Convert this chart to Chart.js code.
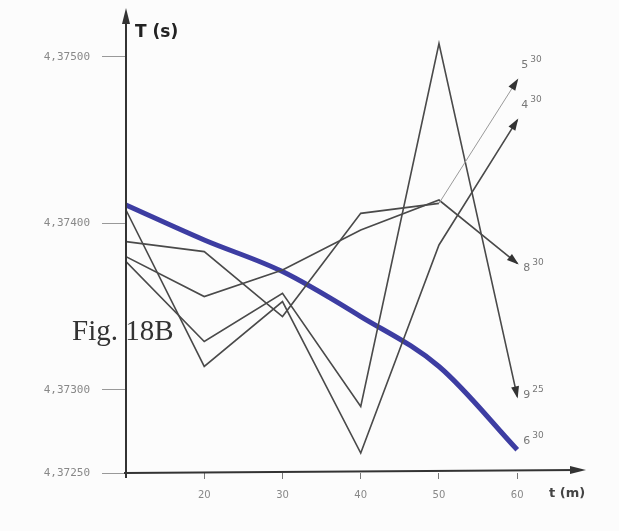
<!DOCTYPE html>
<html><head><meta charset="utf-8">
<script src="https://cdn.jsdelivr.net/npm/chart.js@4/dist/chart.umd.min.js"></script>
<style>html,body{margin:0;padding:0;background:#fcfcfc;}#wrap{width:619px;height:531px;}</style>
</head><body><div id="wrap"><canvas id="c" width="619" height="531"></canvas></div>
<script>
const xValues = [10, 20, 30, 40, 50, 60];
const xTickValues = [20, 30, 40, 50, 60];
const yTickValues = [4.37250, 4.37300, 4.37400, 4.37500];
const series630 = [4.37411, 4.37390, 4.37371, 4.37344, 4.37314, 4.37264];
const series430 = [4.37408, 4.37314, 4.37353, 4.37262, 4.37387, 4.37462];
const series925 = [4.37377, 4.37329, 4.37358, 4.37290, 4.37508, 4.37296];
const series530 = [4.37389, 4.37383, 4.37344, 4.37406, 4.37412, 4.37486];
const series830 = [4.37380, 4.37356, 4.37372, 4.37396, 4.37414, 4.37376];
const labelMain = ['5', '4', '8', '9', '6'];
const labelSup = ['30', '30', '30', '25', '30'];

function pts(arr){ return xValues.map((x,i)=>({x:x,y:arr[i]})); }
const grayLine = {borderColor:'#4a4a4a', borderWidth:1.6, pointRadius:0, tension:0, fill:false};

const deco = {
  id:'deco',
  beforeDraw(chart){
    const c = chart.ctx;
    c.save(); c.fillStyle = '#fcfcfc'; c.fillRect(0,0,chart.width,chart.height); c.restore();
  },
  afterDatasetsDraw(chart){
    const c = chart.ctx, a = chart.chartArea;
    c.save();
    c.strokeStyle = '#333'; c.lineWidth = 2;
    c.beginPath(); c.moveTo(a.left, a.bottom+5); c.lineTo(a.left, 14); c.stroke();
    c.beginPath(); c.moveTo(a.left-2, a.bottom); c.lineTo(a.right+6, a.bottom-3); c.stroke();
    c.fillStyle = '#333';
    c.beginPath(); c.moveTo(a.left, 8); c.lineTo(a.left-4, 24); c.lineTo(a.left+4, 24); c.closePath(); c.fill();
    c.beginPath(); c.moveTo(a.right+14, a.bottom-3); c.lineTo(a.right-2, a.bottom-7); c.lineTo(a.right-2, a.bottom+1); c.closePath(); c.fill();
    chart.data.datasets.forEach((ds, di)=>{
      const meta = chart.getDatasetMeta(di);
      const n = meta.data.length;
      const p = meta.data[n-1], q = meta.data[n-2];
      if (ds.arrow){
        const ang = Math.atan2(p.y-q.y, p.x-q.x);
        c.save(); c.translate(p.x, p.y); c.rotate(ang);
        c.fillStyle = '#333';
        c.beginPath(); c.moveTo(2,0); c.lineTo(-10,-4); c.lineTo(-10,4); c.closePath(); c.fill();
        c.restore();
      }
      const ox = ds.labelDx, oy = ds.labelDy;
      c.fillStyle = '#777';
      c.font = '11px "DejaVu Sans"';
      c.textBaseline = 'alphabetic'; c.textAlign = 'left';
      c.fillText(labelMain[di], p.x+ox, p.y+oy);
      const w = c.measureText(labelMain[di]).width;
      c.font = '9px "DejaVu Sans"';
      c.fillText(labelSup[di], p.x+ox+w+2, p.y+oy-6);
    });
    c.fillStyle = '#222';
    c.font = 'bold 17px "DejaVu Sans"';
    c.textAlign = 'left';
    c.fillText('T (s)', a.left+9, 37);
    c.font = 'bold 13px "DejaVu Sans"';
    c.fillStyle = '#444';
    c.fillText('t (m)', a.right-23, a.bottom+24);
    c.font = '29px "Liberation Serif"';
    c.fillStyle = '#333';
    c.fillText('Fig. 18B', 72, 340);
    c.restore();
  }
};

new Chart(document.getElementById('c'), {
  type:'line',
  data:{
    datasets:[
      Object.assign({label:'5 30', data:pts(series530), arrow:true, labelDx:4, labelDy:-12}, grayLine, {
        segment:{
          borderColor:(ctx)=> ctx.p0DataIndex === 4 ? '#9a9a9a' : '#4a4a4a',
          borderWidth:(ctx)=> ctx.p0DataIndex === 4 ? 1 : 1.6
        }}),
      Object.assign({label:'4 30', data:pts(series430), arrow:true, labelDx:4, labelDy:-12}, grayLine),
      Object.assign({label:'8 30', data:pts(series830), arrow:true, labelDx:6, labelDy:8}, grayLine),
      Object.assign({label:'9 25', data:pts(series925), arrow:true, labelDx:6, labelDy:2}, grayLine),
      {label:'6 30', data:pts(series630), borderColor:'#3d3da2', borderWidth:5, pointRadius:0, tension:0.35, cubicInterpolationMode:'monotone', fill:false, arrow:false, labelDx:6, labelDy:-6}
    ]
  },
  options:{
    responsive:false, animation:false,
    layout:{padding:{top:15, right:47, left:0, bottom:0}},
    plugins:{legend:{display:false}, tooltip:{enabled:false}},
    scales:{
      x:{type:'linear', min:10, max:67,
        afterFit(s){ s.height = 58; },
        afterBuildTicks(s){ s.ticks = xTickValues.map(v=>({value:v})); },
        border:{display:false},
        grid:{drawOnChartArea:false, tickLength:6, color:'#777', tickWidth:1},
        ticks:{color:'#888', font:{size:10, family:'DejaVu Sans'}, padding:10, maxRotation:0}
      },
      y:{type:'linear', min:4.37250, max:4.37523,
        afterFit(s){ s.width = 126; },
        afterBuildTicks(s){ s.ticks = yTickValues.map(v=>({value:v})); },
        border:{display:false},
        grid:{drawOnChartArea:false, tickLength:24, color:'#999', tickWidth:1},
        ticks:{color:'#888', font:{size:11, family:'DejaVu Sans Mono'}, padding:12,
          callback:(v)=>v.toFixed(5).replace('.', ',')}
      }
    }
  },
  plugins:[deco]
});
</script></body></html>
